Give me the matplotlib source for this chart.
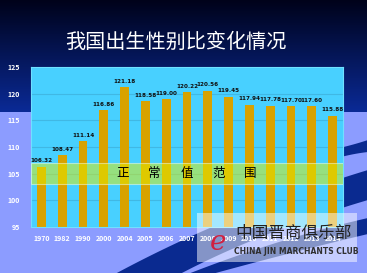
import numpy as np
import matplotlib
matplotlib.use("Agg")
import matplotlib.pyplot as plt
from matplotlib.patches import Polygon, Rectangle

plt.rcParams['font.family'] = ['Noto Sans CJK SC', 'DejaVu Sans']

years = ['1970', '1982', '1990', '2000', '2004', '2005', '2006', '2007',
         '2008', '2009', '2010', '2011', '2012', '2013', '2014']
ratio = [106.32, 108.47, 111.14, 116.86, 121.18, 118.58, 119.00, 120.22,
         120.56, 119.45, 117.94, 117.78, 117.70, 117.60, 115.88]
normal_low, normal_high = 103, 107
band_chars = ['正', '常', '值', '范', '围']

W, H = 367, 273
fig = plt.figure(figsize=(W / 100, H / 100), dpi=100)
fig.patch.set_facecolor('#8c9cff')

# slide background
bg = fig.add_axes([0, 0, 1, 1], zorder=0)
bg.set_xlim(0, W)
bg.set_ylim(H, 0)
bg.axis('off')
grad = np.linspace(0, 1, 200)[:, None]
top = np.array([0, 2, 26]) / 255
bot = np.array([10, 42, 150]) / 255
img = (top + (bot - top) * grad[..., None]) * np.ones((1, 2, 1))
bg.imshow(img, extent=(0, W, 112, 0), aspect='auto')


def bez(p0, p1, p2, n=40):
    t = np.linspace(0, 1, n)[:, None]
    return (1 - t) ** 2 * np.array(p0) + 2 * (1 - t) * t * np.array(p1) + t ** 2 * np.array(p2)


def swoosh(upper, lower, color):
    pts = np.vstack([bez(*upper), bez(*lower)[::-1]])
    bg.add_patch(Polygon(pts, closed=True, color=color, lw=0))


swoosh([(115, 274), (230, 212), (368, 170)], [(180, 274), (260, 232), (368, 200)], '#0a2a90')
swoosh([(188, 274), (280, 238), (368, 218)], [(212, 274), (300, 250), (368, 234)], '#0a2a90')
swoosh([(330, 150), (350, 146), (368, 140)], [(330, 160), (350, 154), (368, 152)], '#0a2a90')

fig.text(176 / W, 1 - 42 / H, '我国出生性别比变化情况', color='white',
         fontsize=14.5, ha='center', va='center')

ax = fig.add_axes([31 / W, 1 - 227 / H, 312 / W, 160 / H], zorder=2)
ax.set_facecolor('#48d0ff')
x = np.arange(len(years))
ax.bar(x, ratio, width=0.42, color='#d8a200', zorder=2)
ax.set_ylim(95, 125)
ax.set_xlim(-0.5, len(years) - 0.5)
ax.set_yticks([95, 100, 105, 110, 115, 120, 125])
ax.set_xticks(x)
ax.set_xticklabels(years)
ax.grid(axis='y', color='#40b8e4', lw=0.8, zorder=1)
ax.tick_params(axis='x', length=0, colors='white', labelsize=5, pad=6)
ax.tick_params(axis='y', length=0, colors='white', labelsize=5, pad=8)
for lab in ax.get_xticklabels() + ax.get_yticklabels():
    lab.set_fontweight('bold')
for s in ax.spines.values():
    s.set_color('#70e0ff')
    s.set_linewidth(0.8)

for xi, v in zip(x, ratio):
    ax.text(xi, v + 0.6, f'{v:.2f}', ha='center', va='bottom', fontsize=4.1,
            fontweight='bold', color='#101010', family='DejaVu Sans')

ax.add_patch(Rectangle((-0.5, normal_low), len(years), normal_high - normal_low,
                       facecolor='#e4f000', alpha=0.5, edgecolor='#f0fff0',
                       lw=0.8, zorder=3))
for i, ch in enumerate(band_chars):
    ax.text(3.9 + i * 1.54, (normal_low + normal_high) / 2, ch, ha='center',
            va='center', fontsize=9, color='black', zorder=4)

# watermark
wm = fig.add_axes([0, 0, 1, 1], zorder=5)
wm.set_xlim(0, W)
wm.set_ylim(H, 0)
wm.axis('off')
wm.add_patch(Rectangle((197, 213), 160, 49, facecolor='white', alpha=0.5, lw=0))
wm.text(294, 233, '中国晋商俱乐部', fontsize=12, color='#202020', ha='center', va='center')
wm.text(296, 251, 'CHINA JIN MARCHANTS CLUB', fontsize=5.5, color='#303030',
        ha='center', va='center', family='DejaVu Sans', fontweight='bold')
wm.text(218, 243, 'e', fontsize=20, color='#d02040', ha='center', va='center',
        style='italic', family='DejaVu Serif')

fig.savefig('out.png', dpi=100, facecolor=fig.get_facecolor())
